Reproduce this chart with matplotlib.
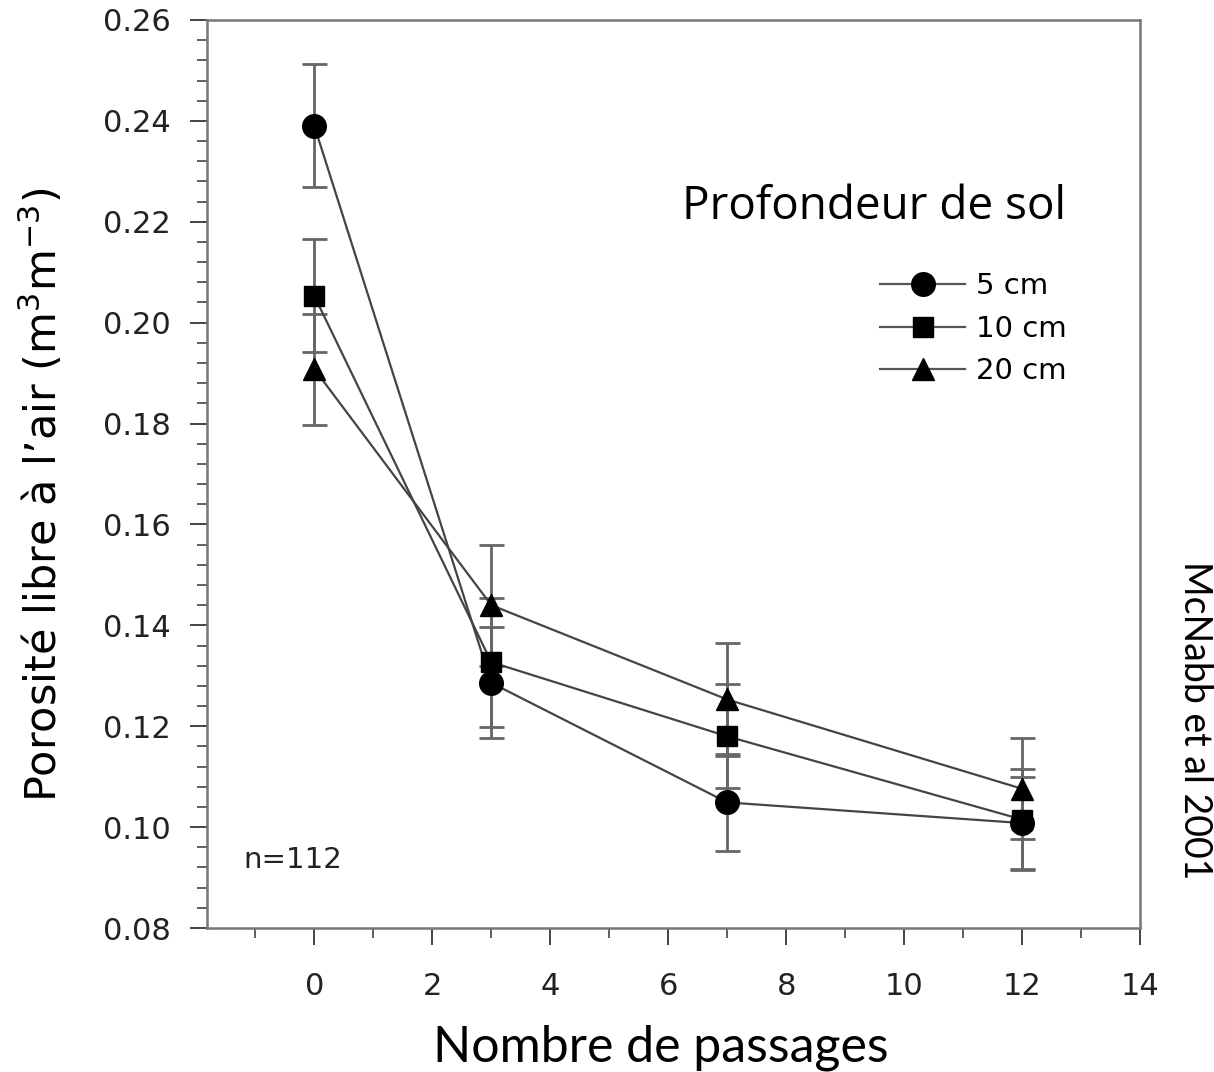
import matplotlib
matplotlib.use("Agg")
import matplotlib.pyplot as plt
from matplotlib.ticker import MultipleLocator, FormatStrFormatter
from matplotlib.lines import Line2D

# Nombre de passages
passages = [0, 3, 7, 12]

# Porosité libre à l'air par profondeur
por_5cm = [0.239, 0.1286, 0.1049, 0.1008]
por_10cm = [0.2053, 0.1327, 0.1180, 0.1015]
por_20cm = [0.1908, 0.1440, 0.1253, 0.1076]

err_5cm = [0.0122, 0.0110, 0.0096, 0.0091]
err_10cm = [0.0112, 0.0128, 0.0103, 0.0100]
err_20cm = [0.0110, 0.0120, 0.0112, 0.0100]

labels = ["5 cm", "10 cm", "20 cm"]
markers = ["o", "s", "^"]
sizes = [17, 15, 16]

plt.rcParams["mathtext.default"] = "regular"

fig = plt.figure(figsize=(12.14, 10.72), dpi=100)
ax = fig.add_axes([207 / 1214, 1 - 928 / 1072, (1140 - 207) / 1214, (928 - 20) / 1072])

series = [(por_5cm, err_5cm), (por_10cm, err_10cm), (por_20cm, err_20cm)]
for (vals, errs), m, ms in zip(series, markers, sizes):
    ax.errorbar(passages, vals, yerr=errs, fmt="none", ecolor="#666666",
                elinewidth=2, capsize=9, capthick=2, zorder=2)
    ax.plot(passages, vals, color="#444444", linewidth=1.6, zorder=3)
    ax.plot(passages, vals, linestyle="none", marker=m, markersize=ms,
            color="black", zorder=4)

ax.set_xlim(-1.82, 14)
ax.set_ylim(0.08, 0.26)
ax.xaxis.set_major_locator(MultipleLocator(2))
ax.xaxis.set_minor_locator(MultipleLocator(1))
ax.yaxis.set_major_locator(MultipleLocator(0.02))
ax.yaxis.set_minor_locator(MultipleLocator(0.004))
ax.yaxis.set_major_formatter(FormatStrFormatter("%.2f"))

for sp in ax.spines.values():
    sp.set_color("#777777")
    sp.set_linewidth(1.8)

ax.tick_params(axis="both", which="major", direction="out", length=12, width=1.4,
               color="#444444", labelsize=22)
ax.tick_params(axis="both", which="minor", direction="out", length=7, width=1.2,
               color="#444444")
ax.tick_params(axis="x", which="major", pad=20)
ax.tick_params(axis="y", which="major", pad=14)
for t in ax.get_xticklabels() + ax.get_yticklabels():
    t.set_family("DejaVu Sans")
    t.set_color("#222222")

fig.text(42 / 1214, 1 - 495 / 1072, "Porosité libre à l’air (m$^3$m$^{-3}$)",
         rotation=90, ha="center", va="center", fontsize=31,
         family="DejaVu Sans")
fig.text(661 / 1214, 1 - 1048 / 1072, "Nombre de passages", ha="center",
         va="center", fontsize=36, family="Lato")
fig.text(1195 / 1214, 1 - 720 / 1072, "McNabb et al 2001", rotation=-90,
         ha="center", va="center", fontsize=27, family="Lato")
fig.text(874 / 1214, 1 - 207 / 1072, "Profondeur de sol", ha="center",
         va="center", fontsize=33, family="Open Sans")
ax.text(243 / 1214, 1 - 860 / 1072, "n=112", transform=fig.transFigure,
        ha="left", va="center", fontsize=21, family="DejaVu Sans", color="#222222")

handles = [Line2D([0], [0], color="#555555", linewidth=1.6, marker=m,
                  markersize=ms, markerfacecolor="black", markeredgecolor="black")
           for m, ms in zip(markers, sizes)]
leg = fig.legend(handles, labels, loc="upper left",
                 bbox_to_anchor=(854 / 1214, 1 - 246 / 1072), frameon=False,
                 fontsize=21, handlelength=2.9, handletextpad=0.4,
                 labelspacing=0.5)
for t in leg.get_texts():
    t.set_family("DejaVu Sans")

fig.savefig("out.png", dpi=100)
